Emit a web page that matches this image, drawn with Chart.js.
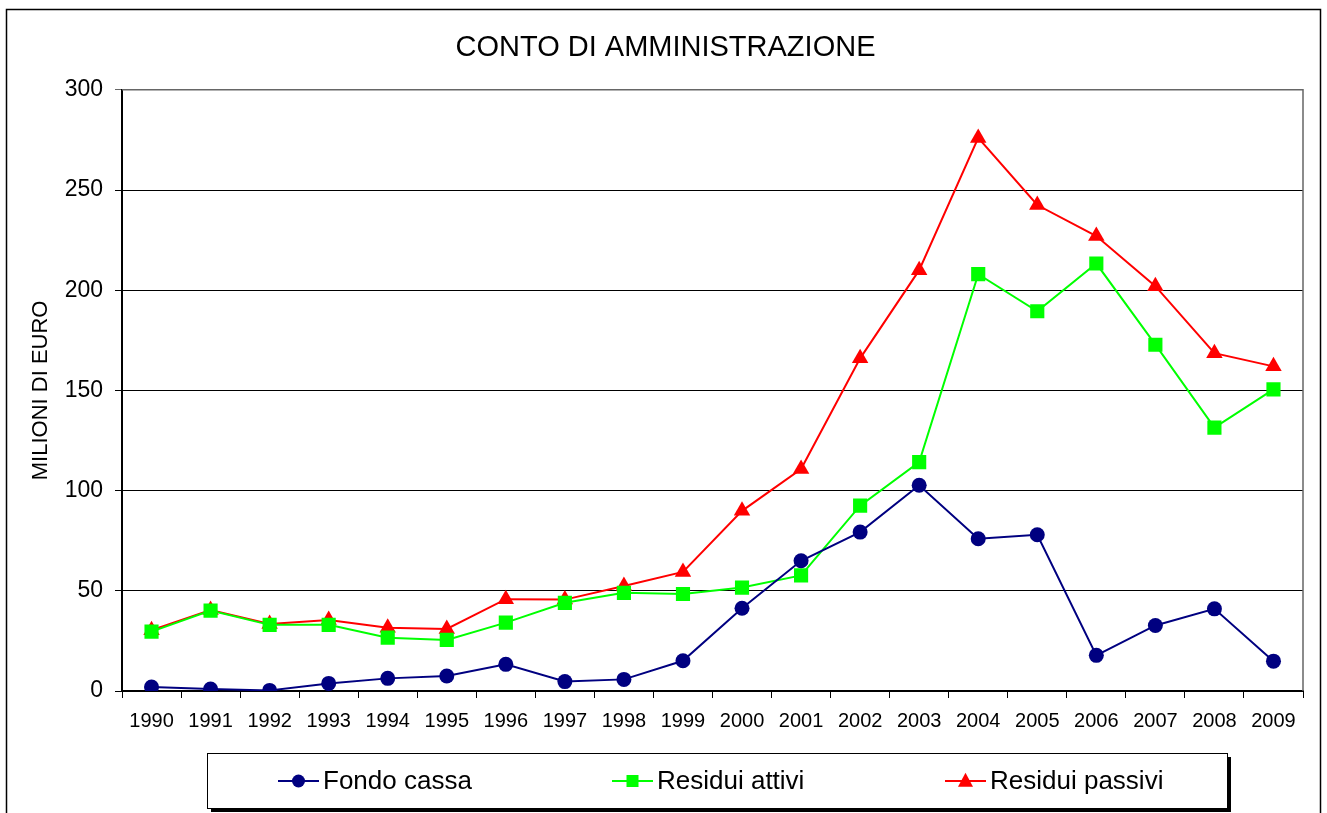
<!DOCTYPE html>
<html>
<head>
<meta charset="utf-8">
<script src="https://cdn.jsdelivr.net/npm/chart.js@4/dist/chart.umd.min.js"></script>
<style>
  body { margin: 0; background: #fff; }
  #wrap { width: 1327px; height: 813px; }
</style>
</head>
<body>
<div id="wrap"><canvas id="chart" width="1327" height="813"></canvas></div>
<script>
const years = ['1990', '1991', '1992', '1993', '1994', '1995', '1996', '1997', '1998', '1999',
               '2000', '2001', '2002', '2003', '2004', '2005', '2006', '2007', '2008', '2009'];
const fondoCassa = [2, 1, 0.3, 3.8, 6.3, 7.5, 13.3, 4.7, 5.8, 15.1, 41.3, 65, 79.3, 102.7, 76, 78, 17.8, 32.7, 41, 14.9];
const residuiAttivi = [29.6, 40.1, 33, 33, 26.6, 25.5, 34.1, 44, 49, 48.4, 51.6, 57.7, 92.5, 114.2, 208, 189.5, 213.3, 172.8, 131.4, 150.5];
const residuiPassivi = [30.3, 40.4, 33.4, 35.4, 31.6, 31, 45.8, 45.6, 52.4, 59.4, 89.9, 110.8, 166, 210, 276, 242.5, 227, 202, 168.6, 162];
const yTicks = [0, 50, 100, 150, 200, 250, 300];

Chart.defaults.font.family = '"Liberation Sans", Arial, sans-serif';
Chart.defaults.color = '#000';

// frame around the whole chart, right/top border of plot area
const framePlugin = {
    id: 'frame',
    beforeDraw(chart) {
        const ctx = chart.ctx;
        ctx.save();
        ctx.fillStyle = '#fff';
        ctx.fillRect(0, 0, chart.width, chart.height);
        ctx.strokeStyle = '#000';
        ctx.lineWidth = 1.5;
        ctx.strokeRect(6.5, 9.5, 1314, 900);
        ctx.restore();
    },
    afterDatasetsDraw(chart) {
        const {ctx, chartArea} = chart;
        ctx.save();
        ctx.strokeStyle = '#666';
        ctx.lineWidth = 1.5;
        ctx.beginPath();
        ctx.moveTo(chartArea.left, chartArea.top);
        ctx.lineTo(chartArea.right, chartArea.top);
        ctx.lineTo(chartArea.right, chartArea.bottom);
        ctx.stroke();
        ctx.restore();
    }
};

function drawMarker(ctx, style, x, y, r, color) {
    ctx.fillStyle = color;
    ctx.beginPath();
    if (style === 'circle') {
        ctx.arc(x, y, r, 0, Math.PI * 2);
    } else if (style === 'rect') {
        ctx.rect(x - r, y - r, 2 * r, 2 * r);
    } else {
        ctx.moveTo(x, y - r * 1.1);
        ctx.lineTo(x + r, y + r * 0.75);
        ctx.lineTo(x - r, y + r * 0.75);
        ctx.closePath();
    }
    ctx.fill();
}

// legend box with shadow, line + marker per series
const legendPlugin = {
    id: 'boxLegend',
    afterDraw(chart) {
        const ctx = chart.ctx;
        const box = {x: 207, y: 753, w: 1020, h: 55};
        ctx.save();
        ctx.fillStyle = '#000';
        ctx.fillRect(box.x + 4, box.y + 4, box.w, box.h);
        ctx.fillStyle = '#fff';
        ctx.fillRect(box.x, box.y, box.w, box.h);
        ctx.strokeStyle = '#000';
        ctx.lineWidth = 1;
        ctx.strokeRect(box.x + 0.5, box.y + 0.5, box.w, box.h);
        const starts = [278, 612, 945];
        const sizes = {circle: 6.5, rect: 6, triangle: 7.5};
        const cy = box.y + 28;
        chart.data.datasets.forEach((ds, i) => {
            const x0 = starts[i];
            ctx.strokeStyle = ds.borderColor;
            ctx.lineWidth = 2;
            ctx.beginPath();
            ctx.moveTo(x0, cy);
            ctx.lineTo(x0 + 41, cy);
            ctx.stroke();
            drawMarker(ctx, ds.pointStyle, x0 + 20.5, cy, sizes[ds.pointStyle], ds.borderColor);
            ctx.fillStyle = '#000';
            ctx.font = '26px "Liberation Sans", Arial, sans-serif';
            ctx.textBaseline = 'middle';
            ctx.textAlign = 'left';
            ctx.fillText(ds.label, x0 + 45, cy + 1);
        });
        ctx.restore();
    }
};

new Chart(document.getElementById('chart'), {
    type: 'line',
    data: {
        labels: years,
        datasets: [
            {
                label: 'Fondo cassa',
                data: fondoCassa,
                borderColor: '#000080',
                backgroundColor: '#000080',
                borderWidth: 2,
                pointStyle: 'circle',
                pointRadius: 7.5,
                pointBorderWidth: 0,
                tension: 0,
            },
            {
                label: 'Residui attivi',
                data: residuiAttivi,
                borderColor: '#00FF00',
                backgroundColor: '#00FF00',
                borderWidth: 2,
                pointStyle: 'rect',
                pointRadius: 10,
                pointBorderWidth: 0,
                tension: 0,
            },
            {
                label: 'Residui passivi',
                data: residuiPassivi,
                borderColor: '#FF0000',
                backgroundColor: '#FF0000',
                borderWidth: 2,
                pointStyle: 'triangle',
                pointRadius: 9.5,
                pointBorderWidth: 0,
                tension: 0,
            },
        ]
    },
    options: {
        responsive: false,
        animation: false,
        layout: {padding: {left: 28, right: 24, top: 0, bottom: 0}},
        plugins: {
            legend: {display: false},
            tooltip: {enabled: false},
            title: {
                display: true,
                text: 'CONTO DI AMMINISTRAZIONE',
                font: {size: 29, weight: 'normal'},
                color: '#000',
                padding: {top: 31, bottom: 24},
            },
        },
        scales: {
            x: {
                offset: true,
                grid: {
                    offset: true,
                    drawOnChartArea: false,
                    drawTicks: true,
                    tickLength: 7,
                    color: '#000',
                },
                border: {color: '#000', width: 2},
                ticks: {
                    font: {size: 20},
                    color: '#000',
                    padding: 11,
                    maxRotation: 0,
                    autoSkip: false,
                },
                afterFit(scale) { scale.height = 122; },
            },
            y: {
                min: 0,
                max: 300,
                afterBuildTicks(scale) { scale.ticks = yTicks.map(v => ({value: v})); },
                grid: {
                    color: (c) => c.tick && c.tick.value === 300 ? '#666' : '#000',
                    lineWidth: 1,
                    tickLength: 7,
                },
                border: {color: '#000', width: 2},
                ticks: {
                    font: {size: 23},
                    color: '#000',
                    padding: 12,
                },
                title: {
                    display: true,
                    text: 'MILIONI DI EURO',
                    font: {size: 22},
                    color: '#000',
                    padding: 0,
                },
                afterFit(scale) { scale.width = 94; },
            }
        }
    },
    plugins: [framePlugin, legendPlugin]
});
</script>
</body>
</html>
